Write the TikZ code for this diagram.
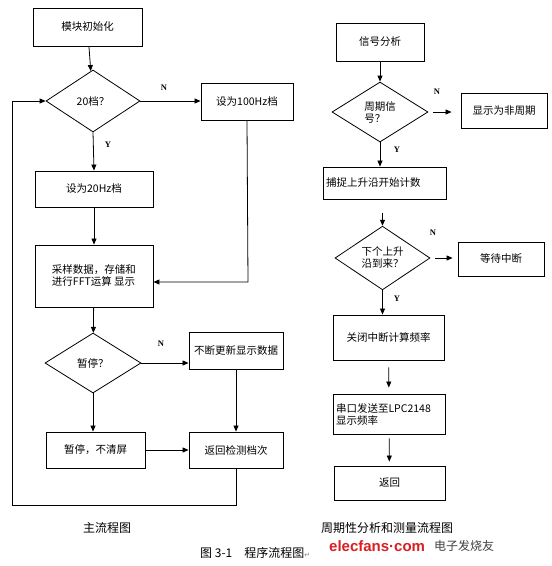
\documentclass[tikz,border=0pt]{standalone}
\usepackage{fontspec}
\setmainfont{Noto Sans CJK SC}
\newfontfamily\latn{Liberation Serif}
\newfontfamily\wmark{Liberation Sans}
\newfontfamily\symb{DejaVu Sans}
\usetikzlibrary{shapes.geometric,arrows.meta}
\definecolor{wmred}{RGB}{215,30,35}
\begin{document}
\begin{tikzpicture}[x=1pt, y=-1pt,
  box/.style={draw, line width=0.9pt, font=\fontsize{10.5}{12}\selectfont, inner sep=2pt},
  dec/.style={draw, diamond, line width=0.8pt, inner sep=0pt, font=\fontsize{10.5}{12}\selectfont},
  arr/.style={line width=0.8pt, -{Triangle[length=6pt,width=5pt]}},
  yn/.style={font=\latn\bfseries\fontsize{8.5}{9}\selectfont, inner sep=0pt},
  captext/.style={font=\fontsize{12}{14}\selectfont, inner sep=0pt}]
\useasboundingbox (0,0) rectangle (552,566);
% main flow
\node[box, minimum width=109, minimum height=38] (m0) at (87.5,27){模块初始化};
\node[dec, minimum width=94, minimum height=62] (m1) at (93,101){20档？};
\draw[arr](m0) -- (m1);
\node[box, minimum width=92, minimum height=37] (m2) at (247,101.5){设为100Hz档};
\draw[arr](m1.east) -- (m1.east -| m2.west);
\node[yn] (n0) at (164,88){N};
\node[box, minimum width=118, minimum height=36] (m3) at (94,189){设为20Hz档};
\draw[arr](m1.south) -- (m3.north);
\node[yn] (y0) at (108,145){Y};
\node[box, minimum width=118, minimum height=62, align=left] (m4) at (94,276){采样数据，存储和\\进行FFT运算 显示};
\draw[arr](m3) -- (m4);
\coordinate (c1) at (248,282);
\draw[arr](m2.south) -- (c1) -- (c1 -| m4.east);
\node[dec, minimum width=96, minimum height=60] (m5) at (93,363){暂停？};
\draw[arr](m4) -- (m5);
\node[box, minimum width=94, minimum height=37] (m6) at (236,350.5){不断更新显示数据};
\draw[arr](m5.east) -- (m5.east -| m6.west);
\node[yn] (n1) at (161,344){N};
\node[box, minimum width=99, minimum height=36] (m7) at (95.5,450){暂停，不清屏};
\draw[arr](m5.south) -- (m5.south |- m7.north);
\node[box, minimum width=94, minimum height=36] (m8) at (236,450){返回检测档次};
\draw[arr](m6) -- (m8);
\draw[arr](m7) -- (m8);
\coordinate (c2) at (12,505);
\draw[arr](m8.south) |- (c2) |- (m1.west);
% period analysis flow
\node[box, minimum width=88, minimum height=38] (p0) at (380,42){信号分析};
\node[dec, minimum width=96, minimum height=60, align=left] (p1) at (380,112){周期信\\号？};
\draw[arr](p0) -- (p1);
\node[box, minimum width=86, minimum height=35] (p2) at (504,110.5){显示为非周期};
\draw[arr, shorten <=5pt, shorten >=9pt](p1.east) -- (p1.east -| p2.west);
\node[yn] (n2) at (437,92){N};
\node[box, minimum width=123, minimum height=32, text width=117, align=left] (p3) at (384.5,183){捕捉上升沿开始计数};
\draw[arr](p1.south) -- (p1.south |- p3.north);
\node[yn] (y2) at (397,150){Y};
\node[dec, minimum width=95, minimum height=59, align=left] (p4) at (382.5,258){下个上升\\沿到来？};
\draw[arr, shorten <=14pt](p3.south -| p4.north) -- (p4.north);
\node[box, minimum width=86, minimum height=34] (p5) at (501,259){等待中断};
\draw[arr, shorten <=5pt, shorten >=5pt](p4.east) -- (p4.east -| p5.west);
\node[yn] (n3) at (433,233){N};
\node[box, minimum width=111, minimum height=45] (p6) at (388.5,337.5){关闭中断计算频率};
\draw[arr](p4.south) -- (p4.south |- p6.north);
\node[yn] (y3) at (397,299){Y};
\node[box, minimum width=112, minimum height=40, text width=106, align=left] (p7) at (389,414){串口发送至LPC2148\\显示频率};
\draw[arr, shorten <=7pt, shorten >=6pt](p6) -- (p7);
\node[box, minimum width=111, minimum height=34] (p8) at (389.5,483){返回};
\draw[arr, shorten <=4pt, shorten >=4pt](p7) -- (p8);
% captions
\node[captext] (t0) at (107,528){主流程图};
\node[captext] (t1) at (387,528){周期性分析和测量流程图};
\node[captext, anchor=west] (t2) at (200,553){图 3-1\hspace{1em}程序流程图{\color{gray}\symb\fontsize{7}{8}\selectfont ↵}};
\node[font=\wmark\bfseries\fontsize{15}{16}\selectfont, text=wmred, anchor=west, inner sep=0pt] (w0) at (329,546){elecfans·com};
\node[font=\fontsize{12}{14}\selectfont, text=black!75, anchor=west, inner sep=0pt] (w1) at (434,546){电子发烧友};
\end{tikzpicture}
\end{document}
